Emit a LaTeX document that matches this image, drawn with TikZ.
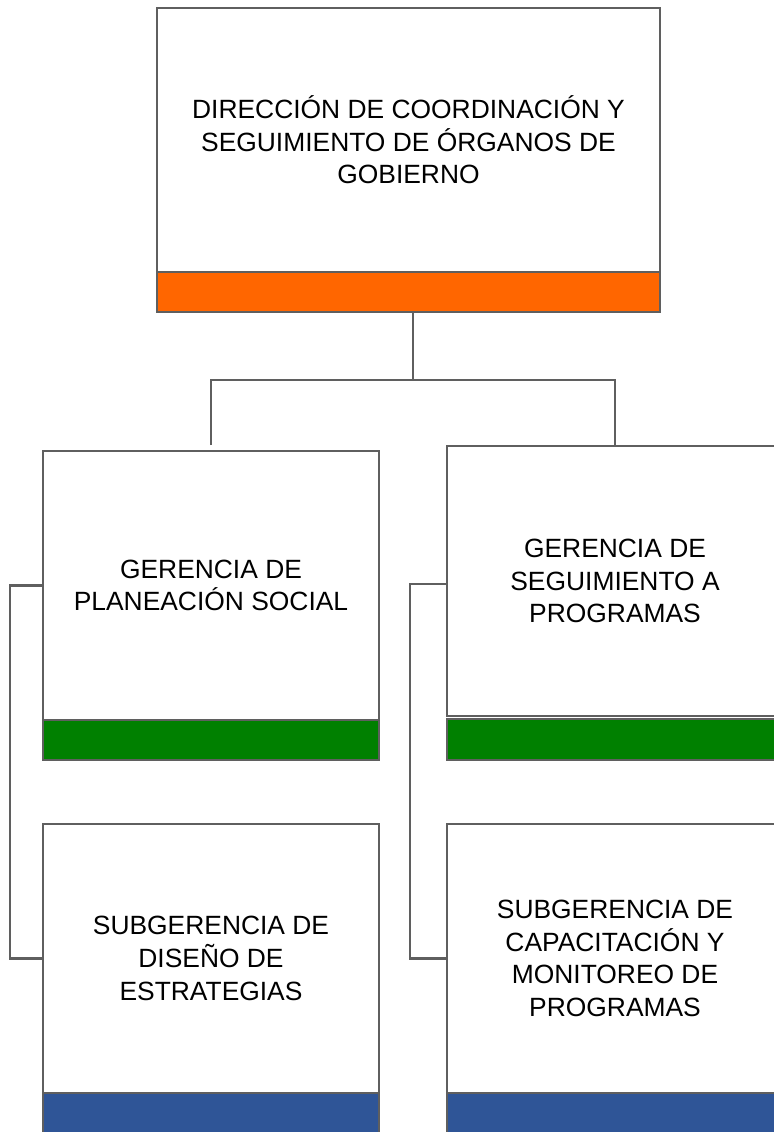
\documentclass[tikz,border=0pt]{standalone}
\usepackage{fontspec}
\setmainfont{Liberation Sans}
\begin{document}
\def\px{0.75pt}
\definecolor{edge}{HTML}{5F5F5F}
\definecolor{orangebar}{HTML}{FF6600}
\definecolor{greenbar}{HTML}{008000}
\definecolor{bluebar}{HTML}{2F5597}
\begin{tikzpicture}[x=0.75pt,y=-0.75pt,
  box/.style={draw=edge,line width=1.7pt,fill=white,inner sep=0pt,outer sep=0pt,
    align=center,font=\fontsize{19.8}{24.5}\selectfont},
  bar/.style={draw=edge,line width=1.7pt,inner sep=0pt,outer sep=0pt},
  link/.style={draw=edge,line width=1.7pt}]
\useasboundingbox (0,0) rectangle (774,1132);
\clip (0,0) rectangle (774,1132);
% top box
\node[box,minimum width=503*\px,minimum height=264*\px] (top) at (408.5,140)
  {DIRECCIÓN DE COORDINACIÓN Y\\SEGUIMIENTO DE ÓRGANOS DE\\GOBIERNO};
\node[bar,fill=orangebar,minimum width=503*\px,minimum height=40*\px] (topbar) at (408.5,292) {};
% gerencias
\node[box,minimum width=336*\px,minimum height=269*\px] (ger1) at (211,585.5)
  {GERENCIA DE\\PLANEACIÓN SOCIAL};
\node[bar,fill=greenbar,minimum width=336*\px,minimum height=40*\px] (ger1bar) at (211,740) {};
\node[box,minimum width=336*\px,minimum height=270*\px] (ger2) at (615,581)
  {GERENCIA DE\\SEGUIMIENTO A\\PROGRAMAS};
\node[bar,fill=greenbar,minimum width=336*\px,minimum height=41*\px] (ger2bar) at (615,739.5) {};
% subgerencias
\node[box,minimum width=336*\px,minimum height=269*\px] (sub1) at (211,958.5)
  {SUBGERENCIA DE\\DISEÑO DE\\ESTRATEGIAS};
\node[bar,fill=bluebar,minimum width=336*\px,minimum height=60*\px] (sub1bar) at (211,1123) {};
\node[box,minimum width=336*\px,minimum height=269*\px] (sub2) at (615,958.5)
  {SUBGERENCIA DE\\CAPACITACIÓN Y\\MONITOREO DE\\PROGRAMAS};
\node[bar,fill=bluebar,minimum width=336*\px,minimum height=60*\px] (sub2bar) at (615,1123) {};
% connectors
\coordinate (j) at (413,380);
\draw[link] (topbar.south -| j) -- (j);
\draw[link] ([yshift=6*\px]ger1.north) -- (ger1.north |- j) -- (ger2.north |- j) -- (ger2.north);
\draw[link] (ger1.west) -- ++(-33,0) |- (sub1.west);
\draw[link] ([yshift=-3*\px]ger2.west) -- ++(-37,0) |- (sub2.west);
\end{tikzpicture}
\end{document}
